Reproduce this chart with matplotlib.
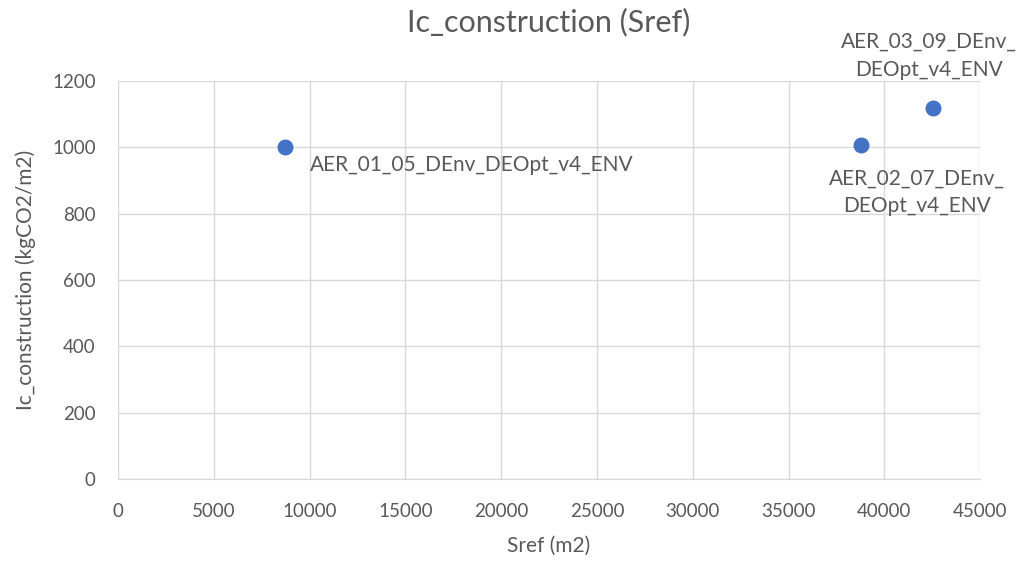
import matplotlib.pyplot as plt

# Data
sref = [8720, 38800, 42550]
ic_construction = [1002, 1008, 1120]
labels = ["AER_01_05_DEnv_DEOpt_v4_ENV",
          "AER_02_07_DEnv_\nDEOpt_v4_ENV",
          "AER_03_09_DEnv_\nDEOpt_v4_ENV"]

plt.rcParams['font.family'] = ['Lato', 'DejaVu Sans']
text_color = '#595959'

fig = plt.figure(figsize=(10.22, 5.61), dpi=100)
ax = fig.add_axes([0.1155, 0.1462, 0.8435, 0.7094])

ax.scatter(sref, ic_construction, s=110, color='#4472C4', zorder=3)

# label placements (offsets in points)
offsets = [(18, -13, 'left', 'center'),
           (40, -17, 'center', 'top'),
           (-3, 20, 'center', 'bottom')]
for x, y, lab, (dx, dy, ha, va) in zip(sref, ic_construction, labels, offsets):
    ax.annotate(lab, (x, y), xytext=(dx, dy), textcoords='offset points',
                ha=ha, va=va, fontsize=15, color=text_color, linespacing=1.5)

ax.set_xlim(0, 45000)
ax.set_ylim(0, 1200)
ax.set_xticks(range(0, 45001, 5000))
ax.set_yticks(range(0, 1201, 200))
ax.grid(True, color='#D9D9D9', linewidth=1)
ax.set_axisbelow(True)
for side in ['top', 'right', 'left']:
    ax.spines[side].set_visible(False)
ax.spines['bottom'].set_color('#D9D9D9')
ax.tick_params(length=0, labelsize=13.5, labelcolor=text_color)
ax.tick_params(axis='x', pad=17)
ax.tick_params(axis='y', pad=16)

ax.set_title('Ic_construction (Sref)', fontsize=22, color=text_color, pad=36)
ax.set_xlabel('Sref (m2)', fontsize=15, color=text_color, labelpad=12)
ax.set_ylabel('Ic_construction (kgCO2/m2)', fontsize=15, color=text_color, labelpad=12)

fig.savefig('out.png', dpi=100)
